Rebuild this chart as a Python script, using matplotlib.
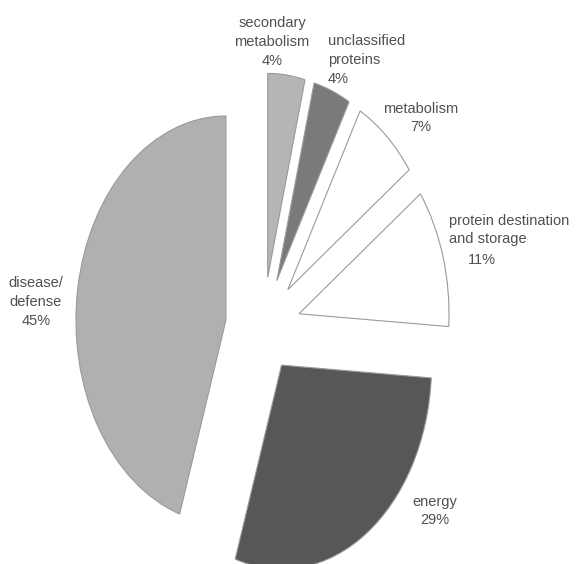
import matplotlib.pyplot as plt

plt.rcParams["font.family"] = ["Liberation Sans", "DejaVu Sans"]

# functional categories, clockwise from 12 o'clock
categories = ["secondary metabolism", "unclassified proteins", "metabolism",
              "protein destination and storage", "energy", "disease/defense"]
shares = [4, 4, 7, 11, 29, 45]
colors = ["#b5b5b5", "#7a7a7a", "#ffffff", "#ffffff", "#575757", "#b0b0b0"]
explode = [0.25, 0.25, 0.25, 0.25, 0.22, 0.25]

fig = plt.figure(figsize=(5.79, 5.64), dpi=100)
ax = fig.add_axes([0, 0, 1, 1])

ax.pie(shares, explode=explode, colors=colors, startangle=90, counterclock=False,
       wedgeprops=dict(edgecolor="#9a9a9a", linewidth=0.8))

# stretched (elliptical) pie: 150 px wide radius, 204 px tall radius
ax.set_aspect("auto")
ax.set_xlim(-263 / 150, (579 - 263) / 150)
ax.set_ylim((328 - 564) / 204, 328 / 204)
ax.axis("off")


def px(x, y):
    return (x - 263) / 150, (328 - y) / 204


txt = dict(fontsize=10.5, color="#505050", linespacing=1.45, va="center")
ax.text(*px(272, 42), "secondary\nmetabolism\n4%", ha="center", **txt)
ax.text(*px(328, 60), "unclassified\nproteins\n4%", ha="left", **txt)
ax.text(*px(421, 118), "metabolism\n7%", ha="center", **txt)
ax.text(*px(449, 230), "protein destination\nand storage", ha="left", **txt)
ax.text(*px(468, 260), "11%", ha="left", **txt)
ax.text(*px(36, 302), "disease/\ndefense\n45%", ha="center", **txt)
ax.text(*px(435, 511), "energy\n29%", ha="center", **txt)

fig.savefig("out.png", dpi=100)
